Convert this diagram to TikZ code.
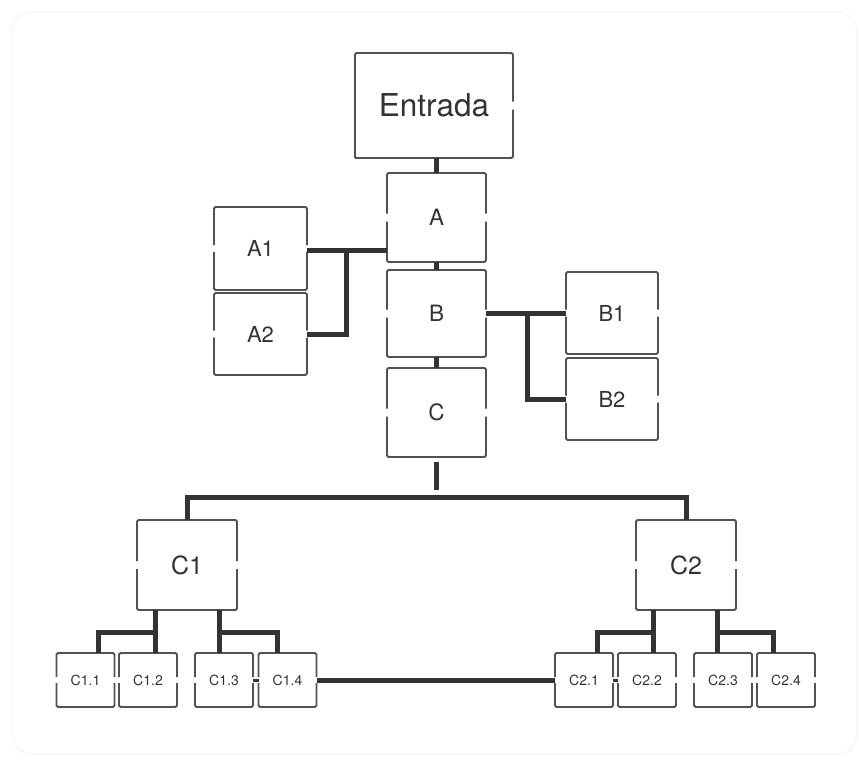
\documentclass[tikz,border=0pt]{standalone}
\usepackage{fontspec}
\setmainfont{TeX Gyre Heros}
\begin{document}
\begin{tikzpicture}[x=1pt,y=-1pt,
  every node/.style={inner sep=0pt,outer sep=0pt,text=black!80},
  bigbox/.style={minimum width=158pt,minimum height=105pt,font=\fontsize{31.5}{32}\selectfont},
  midbox/.style={minimum width=99pt,minimum height=89pt,font=\fontsize{22.5}{23}\selectfont},
  sidebox/.style={minimum width=93pt,minimum height=83pt,font=\fontsize{22}{23}\selectfont},
  cbox/.style={minimum width=100pt,minimum height=90pt,font=\fontsize{25}{26}\selectfont},
  leaf/.style={minimum width=58pt,minimum height=54pt,font=\fontsize{14}{15}\selectfont},
  boxline/.style={line width=1.8pt,draw=black!68,rounded corners=1.5pt},
  conn/.style={line width=5pt,draw=black!80},
  tie/.style={line width=3pt,draw=black!80}
]
% page and faint outer frame
\useasboundingbox (0,0) rectangle (859,760);
\draw[black!3,line width=1.5pt,rounded corners=20pt] (12,12) rectangle (857,754);

% boxes
\node[bigbox]  (E)  at (434,105.5) {Entrada};
\node[midbox]  (A)  at (436.5,217.5) {A};
\node[midbox,minimum height=87pt] (B) at (436.5,313.5) {B};
\node[midbox]  (C)  at (436.5,412.5) {C};
\node[sidebox] (A1) at (260.5,248.5) {A1};
\node[sidebox,minimum height=82pt] (A2) at (260.5,334) {A2};
\node[sidebox,minimum width=92pt,minimum height=82pt] (B1) at (612,313) {B1};
\node[sidebox,minimum width=92pt,minimum height=82pt] (B2) at (612,399) {B2};
\node[cbox] (C1) at (187,565) {C1};
\node[cbox] (C2) at (686,565) {C2};
\node[leaf] (C11) at (85.5,680) {C1.1};
\node[leaf] (C12) at (148,680) {C1.2};
\node[leaf] (C13) at (224,680) {C1.3};
\node[leaf] (C14) at (287.5,680) {C1.4};
\node[leaf] (C21) at (584,680) {C2.1};
\node[leaf] (C22) at (647,680) {C2.2};
\node[leaf] (C23) at (723,680) {C2.3};
\node[leaf] (C24) at (786,680) {C2.4};

% box outlines, open at the middle of both sides
\foreach \n/\g in {A/4,B/4,C/4,A1/3.5,A2/3.5,B1/3.5,B2/3.5,C1/4,C2/4,
                   C11/3,C12/3,C13/3,C14/3,C21/3,C22/3,C23/3,C24/3}{
  \draw[boxline] ([yshift=\g pt]\n.west) -- (\n.north west) -- (\n.north east) -- ([yshift=\g pt]\n.east);
  \draw[boxline] ([yshift=-\g pt]\n.west) -- (\n.south west) -- (\n.south east) -- ([yshift=-\g pt]\n.east);
}
% the entry box is closed on its left side
\draw[boxline] (E.south west) -- (E.north west) -- (E.north east) -- ([yshift=4pt]E.east);
\draw[boxline] (E.south west) -- (E.south east) -- ([yshift=-4pt]E.east);

% main chain
\draw[conn] (A.north) -- (A.north |- E.south);
\draw[conn] (B.north) -- (B.north |- A.south);
\draw[conn] (C.north) -- (C.north |- B.south);

% A branch
\coordinate (aj) at (346,250);
\draw[conn] (A1.east |- aj) -- (A.west |- aj);
\draw[conn] (aj) |- (A2.east);

% B branch
\coordinate (bj) at (527,313.5);
\draw[conn] (B.east) -- (B1.west |- B.east);
\draw[conn] (bj) |- (B2.west);

% C branch
\coordinate (cbar) at (436.5,497);
\draw[conn] ([yshift=-5pt]C.south) -- ([yshift=7pt]cbar);
\draw[conn] (C1.north) |- (cbar) -| (C2.north);

% C1 leaves
\coordinate (c1l) at (155,632);
\coordinate (c1r) at (219,632);
\draw[conn] (C12.north -| c1l) -- (C1.south -| c1l);
\draw[conn] (c1l) -| ([xshift=12.5pt]C11.north);
\draw[conn] (C13.north -| c1r) -- (C1.south -| c1r);
\draw[conn] (c1r) -| ([xshift=-10.5pt]C14.north);

% C2 leaves
\coordinate (c2l) at (653,632);
\coordinate (c2r) at (717,632);
\draw[conn] (C22.north -| c2l) -- (C2.south -| c2l);
\draw[conn] (c2l) -| ([xshift=13pt]C21.north);
\draw[conn] (C23.north -| c2r) -- (C2.south -| c2r);
\draw[conn] (c2r) -| ([xshift=-13pt]C24.north);

% links across the bottom row
\draw[conn] (C14.east) -- (C21.west);
\draw[tie] (C13.east) -- (C14.west);
\draw[tie] (C21.east) -- (C22.west);
\end{tikzpicture}
\end{document}
